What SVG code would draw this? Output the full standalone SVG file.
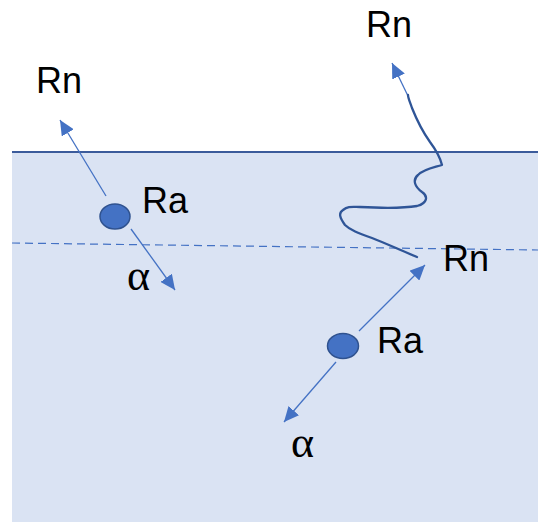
<svg xmlns="http://www.w3.org/2000/svg" width="538" height="522" viewBox="0 0 538 522">
  <style>
    .lbl { font-family: "Liberation Sans", Arial, sans-serif; font-size: 36px; fill: #000; }
    .alpha { font-family: "Liberation Serif", "Times New Roman", serif; font-size: 44px; fill: #000; }
    .arr { stroke: #4472C4; stroke-width: 1.3; fill: none; marker-end: url(#ah); }
    .atom { fill: #4472C4; stroke: #2F528F; stroke-width: 1.5; }
  </style>
  <defs>
    <marker id="ah" markerUnits="userSpaceOnUse" markerWidth="16" markerHeight="14" refX="15" refY="7" orient="auto">
      <path d="M0,0 L15,7 L0,14 Z" fill="#4472C4"/>
    </marker>
  </defs>
  <rect width="538" height="522" fill="#fff"/>
  <g id="ground">
    <rect x="12" y="152" width="526" height="370" fill="#DAE3F3"/>
    <line x1="12" y1="152" x2="538" y2="152" stroke="#3B5B9B" stroke-width="1.8"/>
    <line x1="12" y1="243" x2="538" y2="250" stroke="#4472C4" stroke-width="1.2" stroke-dasharray="8,5"/>
  </g>
  <g id="connectors">
    <line class="arr" x1="106" y1="196" x2="60" y2="120"/>
    <line class="arr" x1="131" y1="229" x2="175" y2="290"/>
    <line class="arr" x1="359" y1="331" x2="425" y2="265"/>
    <line class="arr" x1="336" y1="362" x2="284" y2="422"/>
    <line class="arr" x1="408" y1="96" x2="392" y2="63"/>
    <path d="M417,257 C400,250 385,243 372,238 C358,233 350,230 345,225 C340,218 338,213 343,210 C348,206 352,207 360,207 C380,208 405,208 417,206 C428,203 428,196 422,192 C415,187 412,180 418,175 C424,169 432,168 442,165 C440,157 436,150 430,142 C420,128 416,118 412,108 C410,102 408,98 408,95" fill="none" stroke="#2F5597" stroke-width="2.3" stroke-linecap="round" stroke-linejoin="round"/>
  </g>
  <g id="ra-left">
    <ellipse class="atom" cx="115" cy="216.5" rx="15" ry="12.5"/>
    <text class="lbl" x="142" y="213">Ra</text>
  </g>
  <g id="ra-right">
    <ellipse class="atom" cx="343" cy="346" rx="15.5" ry="12.5"/>
    <text class="lbl" x="377" y="353">Ra</text>
  </g>
  <g id="labels">
    <text class="lbl" x="36" y="93">Rn</text>
    <text class="lbl" x="366" y="37">Rn</text>
    <text class="lbl" x="443" y="271">Rn</text>
    <text class="alpha" x="127" y="290">α</text>
    <text class="alpha" x="291" y="457">α</text>
  </g>
</svg>
